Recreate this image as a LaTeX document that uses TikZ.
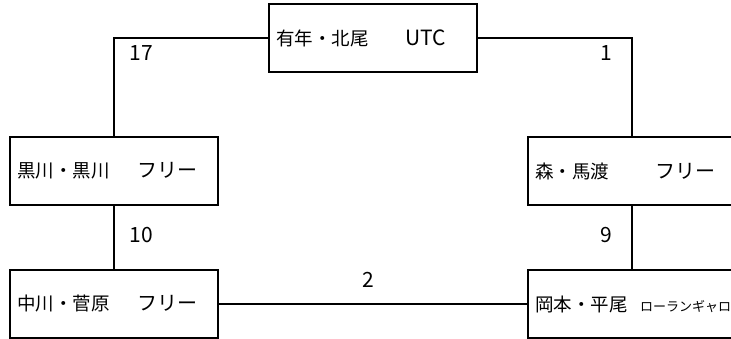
\documentclass[tikz,border=0pt]{standalone}
\usepackage{fontspec}
\setmainfont{Noto Sans CJK JP}
\usetikzlibrary{positioning}

\begin{document}
\begin{tikzpicture}[x=1pt,y=1pt,node distance=2cm,on grid,
  team/.style={draw,rectangle,line width=1.8pt,minimum height=68pt,
    text width=194pt,inner sep=7pt,align=left,
    font=\fontsize{18.5pt}{22pt}\selectfont},
  score/.style={inner sep=0pt,font=\fontsize{21pt}{24pt}\selectfont},
  link/.style={line width=1.8pt}]
  \useasboundingbox (0,0) rectangle (731,-338);

  \node[team] (arinen) at (373,-38) {\makebox[129pt][l]{有年・北尾}{\fontsize{21pt}{24pt}\selectfont UTC}};
  \node[team] (kurokawa) [below left=133pt and 259pt of arinen] {\makebox[120pt][l]{黒川・黒川}{\fontsize{20pt}{23pt}\selectfont フリー}};
  \node[team] (mori) [below right=133pt and 259pt of arinen] {\makebox[120pt][l]{森・馬渡}{\fontsize{20pt}{23pt}\selectfont フリー}};
  \node[team] (nakagawa) [below=133pt of kurokawa] {\makebox[120pt][l]{中川・菅原}{\fontsize{20pt}{23pt}\selectfont フリー}};
  \node[team] (okamoto) [below=133pt of mori] {\makebox[105pt][l]{岡本・平尾}{\fontsize{13pt}{15pt}\selectfont ローランギャロ}};

  \draw[link] (arinen.west) -| (kurokawa.north)
    node[score,pos=0.5,xshift=27pt,yshift=-15pt] {17};
  \draw[link] (arinen.east) -| (mori.north)
    node[score,pos=0.5,xshift=-26pt,yshift=-15pt] {1};
  \draw[link] (kurokawa) -- (nakagawa)
    node[score,midway,xshift=27pt,yshift=2pt] {10};
  \draw[link] (mori) -- (okamoto)
    node[score,midway,xshift=-26pt,yshift=2pt] {9};
  \draw[link] (nakagawa) -- (okamoto)
    node[score,midway,xshift=-5pt,yshift=24pt] {2};
\end{tikzpicture}
\end{document}
